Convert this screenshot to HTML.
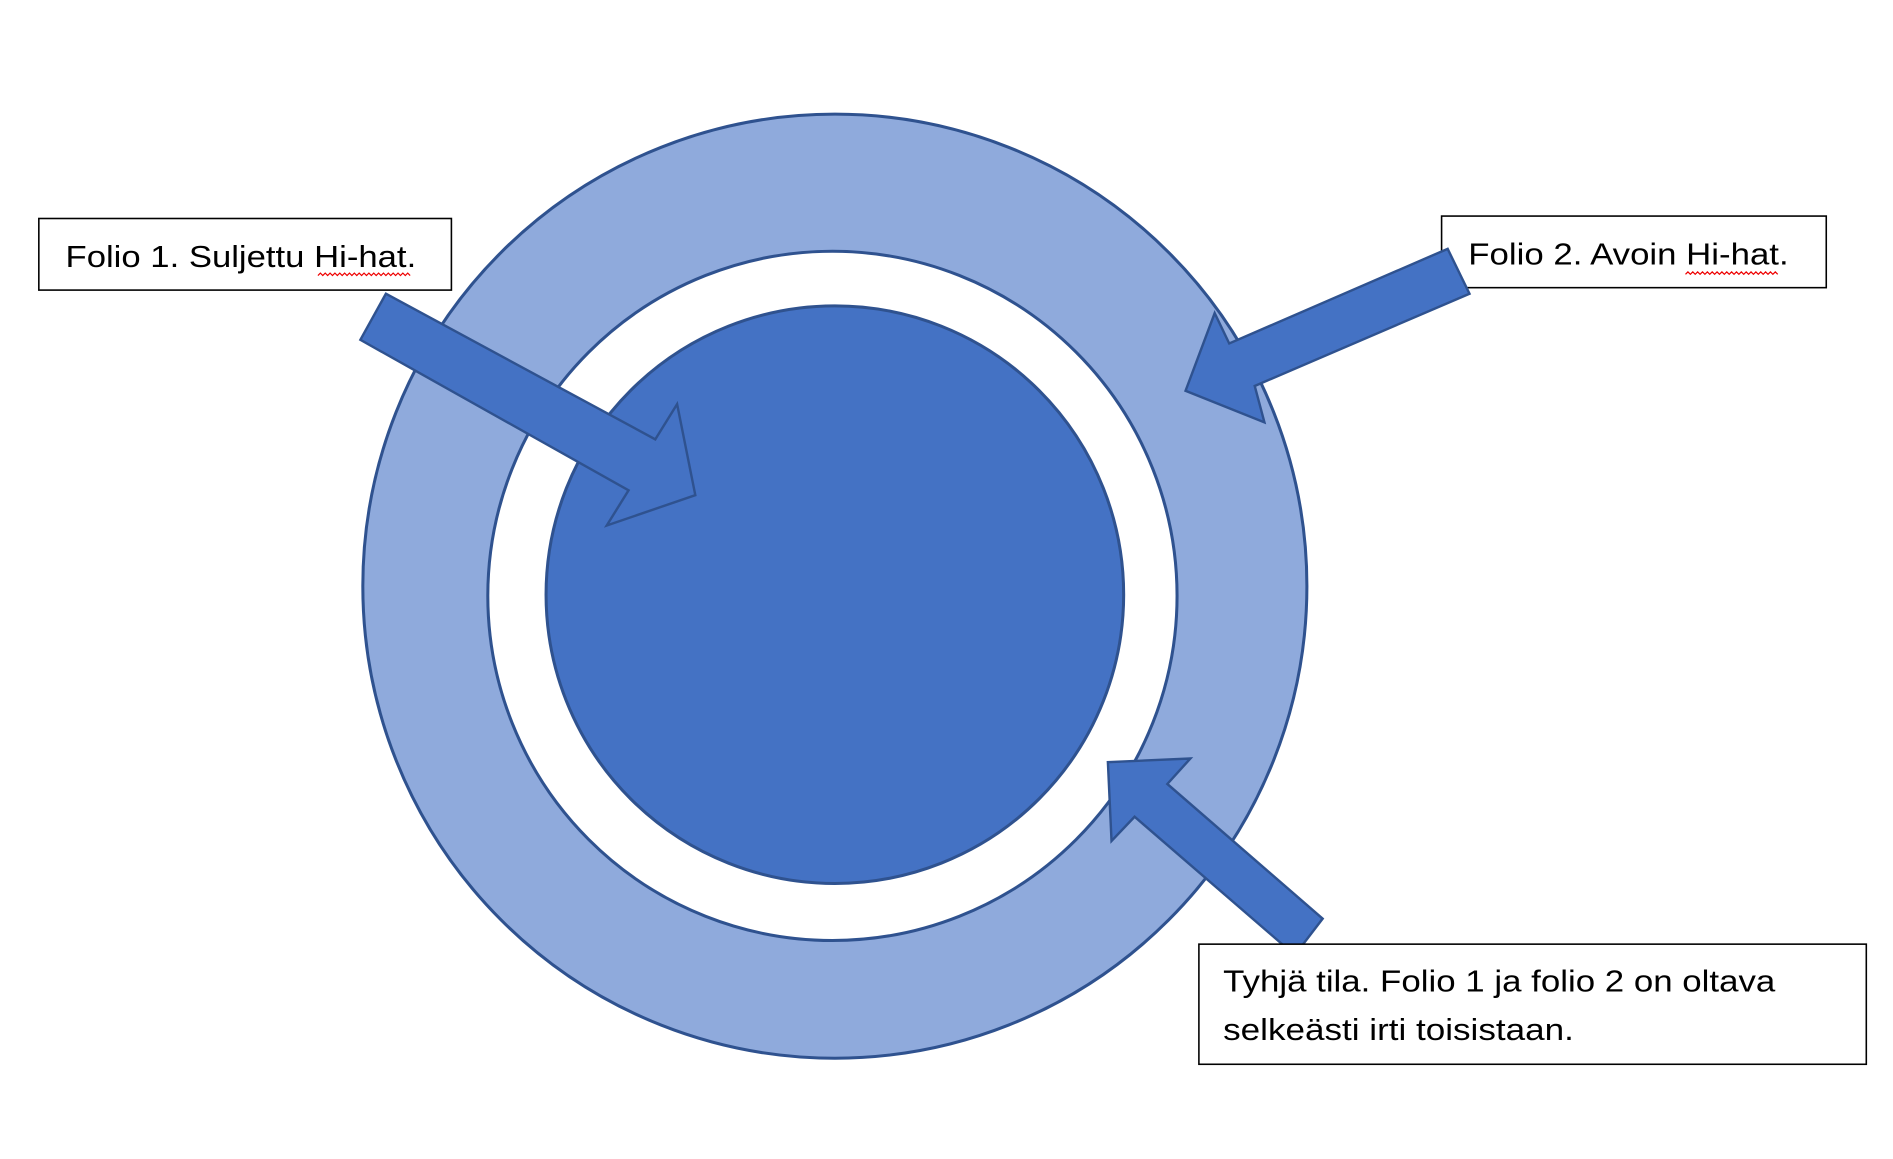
<!DOCTYPE html>
<html><head><meta charset="utf-8"><style>
html,body{margin:0;padding:0;background:#fff;}
svg{display:block;}
text{font-family:"Liberation Sans",sans-serif;fill:#000;}
</style></head><body>
<svg width="1893" height="1159" viewBox="0 0 1560 955" xmlns="http://www.w3.org/2000/svg">
<ellipse cx="688" cy="483" rx="389" ry="389" fill="#8faadc" stroke="#2f528f" stroke-width="2.5"/>
<ellipse cx="686" cy="491" rx="284" ry="284" fill="#fff" stroke="#2f528f" stroke-width="2.5"/>
<ellipse cx="688" cy="490" rx="238" ry="238" fill="#4472c4" stroke="#2f528f" stroke-width="2.5"/>
<polygon points="318,242 540,362 558,333 573,408 500,433 518,404 297,280" fill="#4472c4" stroke="#2f528f" stroke-width="2"/>
<polygon points="1090,757 962,646 981,625 913,628 916,693 935,673 1067,787" fill="#4472c4" stroke="#2f528f" stroke-width="2"/>
<rect x="32" y="180" width="340" height="59" fill="#fff" stroke="#000" stroke-width="1.3"/>
<text x="54" y="220" font-size="25" textLength="289" lengthAdjust="spacingAndGlyphs">Folio 1. Suljettu Hi-hat.</text>
<path d="M262,227 l2,-2 2,2 2,-2 2,2 2,-2 2,2 2,-2 2,2 2,-2 2,2 2,-2 2,2 2,-2 2,2 2,-2 2,2 2,-2 2,2 2,-2 2,2 2,-2 2,2 2,-2 2,2 2,-2 2,2 2,-2 2,2 2,-2 2,2 2,-2 2,2 2,-2 2,2 2,-2 2,2 2,-2 2,2" fill="none" stroke="#e00" stroke-width="1"/>
<rect x="1188" y="178" width="317" height="59" fill="#fff" stroke="#000" stroke-width="1.3"/>
<polygon points="1193,205 1013,283 1001,258 977,322 1042,348 1034,318 1211,242" fill="#4472c4" stroke="#2f528f" stroke-width="2"/>
<text x="1210" y="218" font-size="25" textLength="264" lengthAdjust="spacingAndGlyphs">Folio 2. Avoin Hi-hat.</text>
<path d="M1389,226 l2,-2 2,2 2,-2 2,2 2,-2 2,2 2,-2 2,2 2,-2 2,2 2,-2 2,2 2,-2 2,2 2,-2 2,2 2,-2 2,2 2,-2 2,2 2,-2 2,2 2,-2 2,2 2,-2 2,2 2,-2 2,2 2,-2 2,2 2,-2 2,2 2,-2 2,2 2,-2 2,2 2,-2 2,2" fill="none" stroke="#e00" stroke-width="1"/>
<rect x="988" y="778" width="550" height="99" fill="#fff" stroke="#000" stroke-width="1.3"/>
<text x="1008" y="817" font-size="25" textLength="455" lengthAdjust="spacingAndGlyphs">Tyhjä tila. Folio 1 ja folio 2 on oltava</text>
<text x="1008" y="857" font-size="25" textLength="289" lengthAdjust="spacingAndGlyphs">selkeästi irti toisistaan.</text>
</svg>
</body></html>
